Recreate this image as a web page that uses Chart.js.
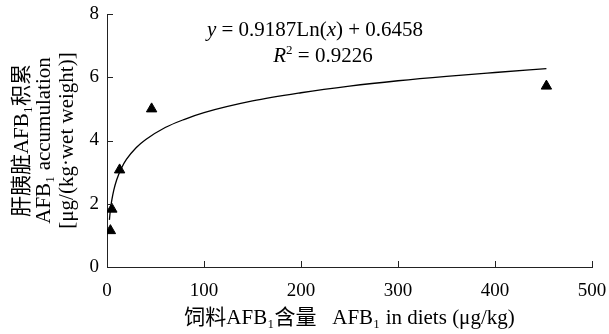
<!DOCTYPE html>
<html>
<head>
<meta charset="utf-8">
<script src="https://cdn.jsdelivr.net/npm/chart.js@4.4.1/dist/chart.umd.min.js"></script>
<style>
html, body { margin: 0; padding: 0; background: #fff; }
#contenedor { width: 609px; height: 334px; }
</style>
</head>
<body>
<div id="contenedor"><canvas id="graficoAFB"></canvas></div>
<script>
// Datos medidos (triángulos)
const dosisDieta = [3.5, 5, 13, 46, 453];
const acumulacion = [1.15, 1.83, 3.07, 5.0, 5.72];

// Curva de tendencia
const curvaX = [2.5, 3, 4, 5, 7, 10, 15, 20, 30, 40, 60, 80, 100, 150, 200, 250, 300, 350, 400, 453];
const curvaY = [1.49, 1.66, 1.92, 2.12, 2.43, 2.76, 3.13, 3.40, 3.77, 4.03, 4.41, 4.67, 4.88, 5.25, 5.51, 5.72, 5.89, 6.03, 6.15, 6.27];

// Etiquetas de los ejes
const ticksX = [0, 100, 200, 300, 400, 500];
const ticksY = [0, 2, 4, 6, 8];

const fuente = "'Liberation Serif', 'Noto Sans CJK SC', 'DejaVu Serif', serif";
const colorEje = '#222';

// Marcas hacia dentro en los ejes
const marcasInternas = {
    id: 'marcasInternas',
    afterDraw(chart) {
        const ctx = chart.ctx;
        const area = chart.chartArea;
        const ejeX = chart.scales.x;
        const ejeY = chart.scales.y;
        ctx.save();
        ctx.strokeStyle = colorEje;
        ctx.lineWidth = 1;
        ctx.beginPath();
        ticksX.forEach(v => {
            const px = Math.round(ejeX.getPixelForValue(v)) + 0.5;
            ctx.moveTo(px, area.bottom);
            ctx.lineTo(px, area.bottom - 6);
        });
        ticksY.forEach(v => {
            const py = Math.round(ejeY.getPixelForValue(v)) + 0.5;
            ctx.moveTo(area.left, py);
            ctx.lineTo(area.left + 6, py);
        });
        ctx.stroke();
        ctx.restore();
    }
};

// Ecuación de la regresión
function escribirPartes(ctx, partes, centroX, baseY) {
    let ancho = 0;
    partes.forEach(p => { ctx.font = p.f; ancho += ctx.measureText(p.t).width; });
    let x = centroX - ancho / 2;
    partes.forEach(p => {
        ctx.font = p.f;
        ctx.fillText(p.t, x, baseY + (p.dy || 0));
        x += ctx.measureText(p.t).width;
    });
}

const ecuacion = {
    id: 'ecuacion',
    afterDraw(chart) {
        const ctx = chart.ctx;
        const normal = "21px " + fuente;
        const cursiva = "italic 21px " + fuente;
        ctx.save();
        ctx.fillStyle = '#000';
        ctx.textBaseline = 'alphabetic';
        escribirPartes(ctx, [
            { t: 'y', f: cursiva },
            { t: ' = 0.9187Ln(', f: normal },
            { t: 'x', f: cursiva },
            { t: ') + 0.6458', f: normal }
        ], 315, 36);
        escribirPartes(ctx, [
            { t: 'R', f: cursiva },
            { t: '2', f: "13px " + fuente, dy: -8 },
            { t: ' = 0.9226', f: normal }
        ], 323, 62);
        ctx.restore();
    }
};

new Chart(document.getElementById('graficoAFB'), {
    type: 'scatter',
    data: {
        datasets: [
            {
                label: 'Tendencia',
                data: curvaX.map((x, i) => ({ x: x, y: curvaY[i] })),
                showLine: true,
                borderColor: '#000',
                borderWidth: 1.3,
                pointRadius: 0,
                cubicInterpolationMode: 'monotone',
                order: 2
            },
            {
                label: 'AFB1',
                data: dosisDieta.map((x, i) => ({ x: x, y: acumulacion[i] })),
                pointStyle: 'triangle',
                pointRadius: 6,
                backgroundColor: '#000',
                borderColor: '#000',
                borderWidth: 1,
                order: 1
            }
        ]
    },
    options: {
        responsive: true,
        maintainAspectRatio: false,
        animation: false,
        layout: { padding: { top: 14, right: 17, left: 0, bottom: 0 } },
        plugins: {
            legend: { display: false },
            tooltip: { enabled: false }
        },
        scales: {
            x: {
                type: 'linear',
                min: 0,
                max: 500,
                afterBuildTicks: eje => { eje.ticks = ticksX.map(v => ({ value: v })); },
                afterFit: eje => {
                    eje.height = 67;
                    eje.paddingLeft = 0;
                    eje.paddingRight = 0;
                },
                grid: { display: false, drawTicks: false },
                border: { display: true, color: colorEje, width: 1 },
                ticks: { color: '#000', padding: 13, font: { family: fuente, size: 19 } },
                title: {
                    display: true,
                    text: '饲料AFB₁含量   AFB₁ in diets (μg/kg)',
                    color: '#000',
                    font: { family: fuente, size: 21 },
                    padding: { top: 0, bottom: 3 }
                }
            },
            y: {
                type: 'linear',
                min: 0,
                max: 8,
                afterBuildTicks: eje => { eje.ticks = ticksY.map(v => ({ value: v })); },
                afterFit: eje => {
                    eje.width = 107;
                    eje.paddingTop = 0;
                    eje.paddingBottom = 0;
                },
                grid: { display: false, drawTicks: false },
                border: { display: true, color: colorEje, width: 1 },
                ticks: { color: '#000', padding: 8, font: { family: fuente, size: 19 } },
                title: {
                    display: true,
                    text: ['肝胰脏AFB₁积累', 'AFB₁ accumulation', '[μg/(kg·wet weight)]'],
                    color: '#000',
                    font: { family: fuente, size: 21, lineHeight: 1.07 },
                    padding: { top: 11, bottom: 0 }
                }
            }
        }
    },
    plugins: [marcasInternas, ecuacion]
});
</script>
</body>
</html>
